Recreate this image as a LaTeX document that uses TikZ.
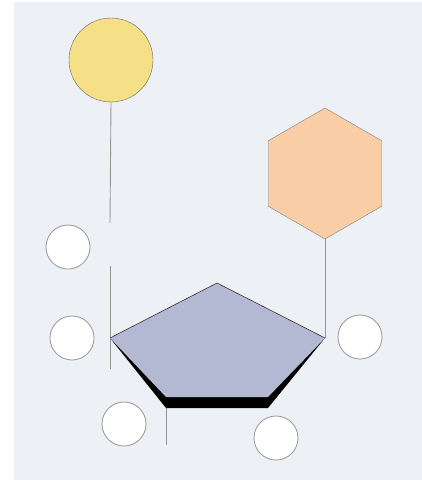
\documentclass[tikz,border=0pt]{standalone}
\usepackage{tikz}
\usetikzlibrary{shapes.geometric, positioning}
\definecolor{bgblue}{RGB}{237, 241, 246}
\definecolor{sunyellow}{RGB}{245, 224, 135}
\definecolor{hexorange}{RGB}{249, 205, 165}
\definecolor{ringblue}{RGB}{179, 184, 211}
\definecolor{stemgray}{RGB}{150, 150, 150}

\tikzset{
    blob/.style={circle, draw=stemgray, fill=white, line width=0.8pt, minimum size=44pt, inner sep=0pt},
    stem/.style={draw=stemgray, line width=0.9pt}
}

\begin{document}
\begin{tikzpicture}[x=1pt, y=-1pt]
    \useasboundingbox (0,0) rectangle (422,480);
    \fill[bgblue] (14,2) rectangle (422,480);

    % base and phosphate
    \node[circle, draw=black!60, fill=sunyellow, minimum size=84pt, inner sep=0pt] (sun) at (111,60) {};
    \node[regular polygon, regular polygon sides=6, shape border rotate=30, draw=black!50, fill=hexorange, minimum size=131pt, inner sep=0pt] (hex) at (325,173.5) {};

    % sugar ring corners
    \coordinate (ptop) at (217,283);
    \coordinate (pright) at (325,338);
    \coordinate (pbr) at (268,397);
    \coordinate (pbl) at (166,397);
    \coordinate (pleft) at (110,338);
    \coordinate (sbr) at (268,408);
    \coordinate (sbl) at (166,408);

    % stems
    \coordinate (stemA) at (110,223);
    \coordinate (stemB) at (110,266);
    \coordinate (stemC) at (110,369);
    \coordinate (stemD) at (166,445);
    \draw[stem] (sun.south) -- (stemA);
    \draw[stem] (stemB) -- (stemC);
    \draw[stem] (hex.-90) -- (pright);
    \draw[stem] (sbl) -- (stemD);

    % ring with its shadow
    \fill[black] (pleft) -- (sbl) -- (sbr) -- (pright) -- cycle;
    \fill[ringblue] (ptop) -- (pright) -- (pbr) -- (pbl) -- (pleft) -- cycle;
    \draw[black!80, line width=0.6pt] (pleft) -- (ptop) -- (pright);

    % open sites
    \foreach \name/\x/\y in {a/68/247, b/72/338, c/360/337, d/124/424, e/276/438} {
        \node[blob] (\name) at (\x,\y) {};
    }
\end{tikzpicture}
\end{document}
